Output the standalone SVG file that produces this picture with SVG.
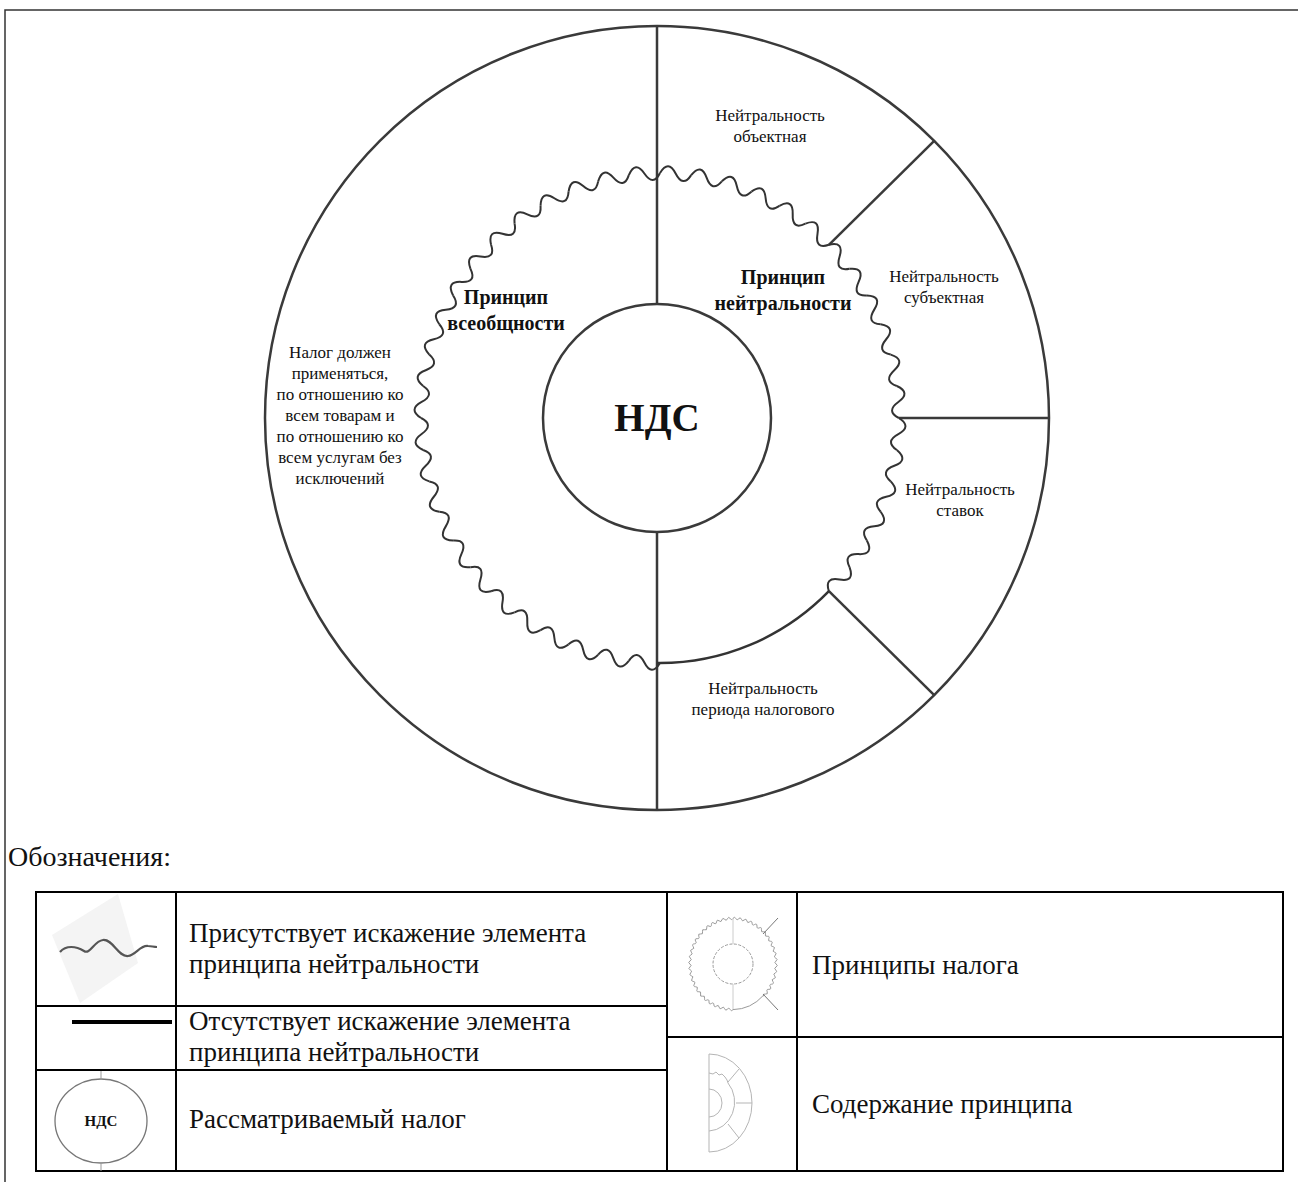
<svg xmlns="http://www.w3.org/2000/svg" xmlns:xlink="http://www.w3.org/1999/xlink" width="1298" height="1182" viewBox="0 0 1298 1182" font-family="'Liberation Serif', 'DejaVu Serif', serif">
<style>
text{font-family:'Liberation Serif','DejaVu Serif',serif;fill:#111}
.lbl{font-size:17px;text-anchor:middle}
.bld{font-size:20px;font-weight:bold;text-anchor:middle}
.leg{font-size:27px}
.ln{stroke:#3a3a3a;stroke-width:2.5;fill:none}
.tb{stroke:#000;stroke-width:2;fill:none}
.ic{stroke:#b5b5b5;stroke-width:1;fill:none}
</style>
<defs>
<path id="w" d="M-16.02,-244.48 Q-8.34,-258.8 0,-245 T16.02,-244.48" vector-effect="non-scaling-stroke"/>
<g id="waveR">
<use href="#w" transform="rotate(3.75)"/><use href="#w" transform="rotate(11.25)"/><use href="#w" transform="rotate(18.75)"/><use href="#w" transform="rotate(26.25)"/><use href="#w" transform="rotate(33.75)"/><use href="#w" transform="rotate(41.25)"/><use href="#w" transform="rotate(48.75)"/><use href="#w" transform="rotate(56.25)"/><use href="#w" transform="rotate(63.75)"/><use href="#w" transform="rotate(71.25)"/><use href="#w" transform="rotate(78.75)"/><use href="#w" transform="rotate(86.25)"/><use href="#w" transform="rotate(93.75)"/><use href="#w" transform="rotate(101.25)"/><use href="#w" transform="rotate(108.75)"/><use href="#w" transform="rotate(116.25)"/><use href="#w" transform="rotate(123.75)"/><use href="#w" transform="rotate(131.25)"/>
</g>
<g id="waveL">
<use href="#w" transform="rotate(183.75)"/><use href="#w" transform="rotate(191.25)"/><use href="#w" transform="rotate(198.75)"/><use href="#w" transform="rotate(206.25)"/><use href="#w" transform="rotate(213.75)"/><use href="#w" transform="rotate(221.25)"/><use href="#w" transform="rotate(228.75)"/><use href="#w" transform="rotate(236.25)"/><use href="#w" transform="rotate(243.75)"/><use href="#w" transform="rotate(251.25)"/><use href="#w" transform="rotate(258.75)"/><use href="#w" transform="rotate(266.25)"/><use href="#w" transform="rotate(273.75)"/><use href="#w" transform="rotate(281.25)"/><use href="#w" transform="rotate(288.75)"/><use href="#w" transform="rotate(296.25)"/><use href="#w" transform="rotate(303.75)"/><use href="#w" transform="rotate(311.25)"/><use href="#w" transform="rotate(318.75)"/><use href="#w" transform="rotate(326.25)"/><use href="#w" transform="rotate(333.75)"/><use href="#w" transform="rotate(341.25)"/><use href="#w" transform="rotate(348.75)"/><use href="#w" transform="rotate(356.25)"/>
</g>
</defs>

<rect width="1298" height="1182" fill="#fff"/>
<path d="M5,1182 V10 H1298" stroke="#333" stroke-width="1.5" fill="none"/>

<g id="outer-circle">
<circle cx="657" cy="418" r="392" class="ln"/>
</g>

<g id="connectors">
<line x1="657" y1="26" x2="657" y2="304" class="ln"/>
<line x1="657" y1="532" x2="657" y2="810" class="ln"/>
<line x1="828.9" y1="244.8" x2="934.2" y2="140.8" class="ln"/>
<line x1="899" y1="418" x2="1049" y2="418" class="ln"/>
<line x1="828.9" y1="591.2" x2="934.2" y2="695.2" class="ln"/>
</g>

<g id="principles-ring" stroke="#333" stroke-width="2" fill="none">
<use href="#waveR" transform="translate(660 418) scale(0.975 1)"/>
<use href="#waveL" transform="translate(660 418) scale(0.975 1)"/>
<path d="M828.9,591.2 A238.9,245 0 0 1 657,663" stroke-width="2.5"/>
</g>

<g id="nds">
<circle cx="657" cy="418" r="114" class="ln" fill="#fff"/>
<text x="657" y="431" text-anchor="middle" font-size="39" font-weight="bold">НДС</text>
</g>

<g id="principle-universality">
<text class="bld" x="506" y="304">Принцип</text>
<text class="bld" x="506" y="330">всеобщности</text>
</g>
<g id="principle-neutrality">
<text class="bld" x="783" y="284">Принцип</text>
<text class="bld" x="783" y="310">нейтральности</text>
</g>
<g id="universality-content">
<text class="lbl" x="340" y="358">Налог должен</text>
<text class="lbl" x="340" y="379">применяться,</text>
<text class="lbl" x="340" y="400">по отношению ко</text>
<text class="lbl" x="340" y="421">всем товарам и</text>
<text class="lbl" x="340" y="442">по отношению ко</text>
<text class="lbl" x="340" y="463">всем услугам без</text>
<text class="lbl" x="340" y="484">исключений</text>
</g>
<g id="neutral-object">
<text class="lbl" x="770" y="121">Нейтральность</text>
<text class="lbl" x="770" y="142">объектная</text>
</g>
<g id="neutral-subject">
<text class="lbl" x="944" y="282">Нейтральность</text>
<text class="lbl" x="944" y="303">субъектная</text>
</g>
<g id="neutral-rates">
<text class="lbl" x="960" y="495">Нейтральность</text>
<text class="lbl" x="960" y="516">ставок</text>
</g>
<g id="neutral-period">
<text class="lbl" x="763" y="694">Нейтральность</text>
<text class="lbl" x="763" y="715">периода налогового</text>
</g>

<text x="8" y="866" font-size="28">Обозначения:</text>

<g id="legend">
<path class="tb" d="M36,892 H1283 V1171 H36 Z M176,892 V1171 M667,892 V1171 M797,892 V1171 M36,1006 H667 M36,1070 H667 M667,1037 H1283"/>
<polygon points="118,894 138,963 80,1003 52,935" fill="#f4f4f4"/>
<path d="M60,952 C66,945 76,946 84,951 C90,955 94,941 103,940 C113,939 118,957 128,956 C136,955 140,945 148,946 C151,946 154,947 157,947" stroke="#555" stroke-width="2.2" fill="none"/>
<text class="leg" x="189" y="942">Присутствует искажение элемента</text>
<text class="leg" x="189" y="973">принципа нейтральности</text>
<line x1="72" y1="1022" x2="172" y2="1022" stroke="#000" stroke-width="4"/>
<text class="leg" x="189" y="1030">Отсутствует искажение элемента</text>
<text class="leg" x="189" y="1061">принципа нейтральности</text>
<ellipse cx="101" cy="1121" rx="46" ry="42" stroke="#777" stroke-width="1.3" fill="#fff"/>
<line x1="101" y1="1071" x2="101" y2="1079" stroke="#999" stroke-width="1"/>
<line x1="101" y1="1163" x2="101" y2="1171" stroke="#999" stroke-width="1"/>
<text x="101" y="1126" text-anchor="middle" font-size="15" font-weight="bold">НДС</text>
<text class="leg" x="189" y="1128">Рассматриваемый налог</text>

<g stroke="#9a9a9a" stroke-width="1" fill="none">
<use href="#waveR" transform="translate(733 964) scale(0.176 0.186)"/>
<use href="#waveL" transform="translate(733 964) scale(0.176 0.186)"/>
<path d="M763.4,995.4 A43,45.6 0 0 1 733,1009.6"/>
<circle cx="733" cy="964" r="20" stroke-dasharray="3 1.5"/>
<line x1="733" y1="919" x2="733" y2="944" stroke="#ccc"/>
<line x1="733" y1="984" x2="733" y2="1009" stroke="#ccc"/>
<line x1="763" y1="934" x2="778" y2="918" stroke="#777"/>
<line x1="763" y1="994" x2="778" y2="1010" stroke="#777"/>
</g>
<text class="leg" x="812" y="974">Принципы налога</text>

<g class="ic">
<path d="M709,1054 V1152"/>
<path d="M709,1054 A43,49 0 0 1 709,1152"/>
<path d="M709,1073 L713,1074 L716,1072 L719,1075 L722,1074 L725,1077 L727,1080 L728,1083 A27,29 0 0 1 709,1131"/>
<path d="M709,1089 A13,14 0 0 1 709,1117"/>
<line x1="728" y1="1082" x2="739" y2="1069"/>
<line x1="736" y1="1103" x2="752" y2="1103"/>
<line x1="728" y1="1124" x2="739" y2="1138"/>
</g>
<text class="leg" x="812" y="1113">Содержание принципа</text>
</g>
</svg>
